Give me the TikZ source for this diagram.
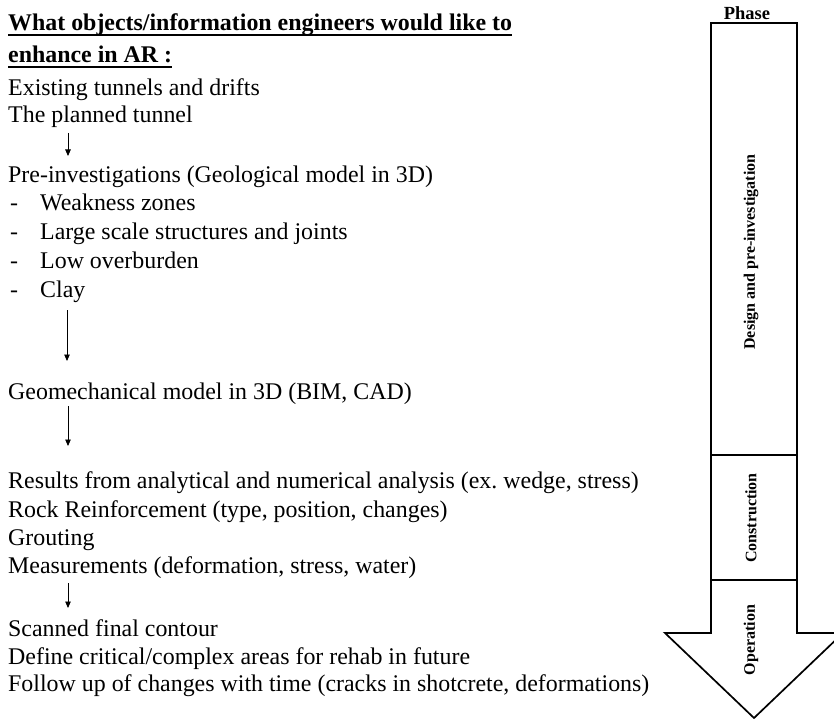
\documentclass[tikz,border=0pt]{standalone}
\usepackage{fontspec}
\setmainfont{Liberation Serif}
\usetikzlibrary{arrows.meta}
\frenchspacing

\tikzset{
  body/.style={font=\fontsize{23.9}{28}\selectfont, inner sep=0pt, anchor=base west},
  head/.style={font=\bfseries\fontsize{23.9}{28}\selectfont, inner sep=0pt, anchor=base west},
  uline/.style={line width=1.3pt},
  flow/.style={-{Triangle[length=6.5pt,width=5.5pt]}, line width=0.9pt},
  phasebox/.style={line width=1.7pt, line join=miter},
  phaselabel/.style={font=\bfseries\fontsize{16}{18}\selectfont, inner sep=0pt, rotate=90},
}

\begin{document}
\begin{tikzpicture}[x=1pt, y=-1pt]
\useasboundingbox (0,0) rectangle (834,719);

% heading
\node[head] (t1) at (8,31) {What objects/information engineers would like to};
\node[head] (t2) at (8,63) {enhance in AR :};
\draw[uline] ([yshift=-4pt]t1.base west) -- ([yshift=-4pt]t1.base east);
\draw[uline] ([yshift=-4pt]t2.base west) -- ([yshift=-4pt]t2.base east);

% list of objects
\node[body] (a1) at (8,96)  {Existing tunnels and drifts};
\node[body] (a2) at (8,123) {The planned tunnel};

\node[body] (b0) at (8,183) {Pre-investigations (Geological model in 3D)};
\node[body] (b1d) at (10,211) {-};
\node[body] (b1) at (40,211) {Weakness zones};
\node[body] (b2d) at (10,240) {-};
\node[body] (b2) at (40,240) {Large scale structures and joints};
\node[body] (b3d) at (10,268) {-};
\node[body] (b3) at (40,268) {Low overburden};
\node[body] (b4d) at (10,297) {-};
\node[body] (b4) at (40,297) {Clay};

\node[body] (c0) at (8,399) {Geomechanical model in 3D (BIM, CAD)};

\node[body] (d1) at (8,488) {Results from analytical and numerical analysis (ex. wedge, stress)};
\node[body] (d2) at (8,517) {Rock Reinforcement (type, position, changes)};
\node[body] (d3) at (8,545) {Grouting};
\node[body] (d4) at (8,573) {Measurements (deformation, stress, water)};

\node[body] (e1) at (8,636) {Scanned final contour};
\node[body] (e2) at (8,664) {Define critical/complex areas for rehab in future};
\node[body] (e3) at (8,691) {Follow up of changes with time (cracks in shotcrete, deformations)};

% flow arrows between the groups
\coordinate (f1s) at (68,133); \coordinate (f1e) at (68,156);
\coordinate (f2s) at (67,310); \coordinate (f2e) at (67,361);
\coordinate (f3s) at (68,406); \coordinate (f3e) at (68,446);
\coordinate (f4s) at (68,583); \coordinate (f4e) at (68,608);
\draw[flow] (f1s) -- (f1e);
\draw[flow] (f2s) -- (f2e);
\draw[flow] (f3s) -- (f3e);
\draw[flow] (f4s) -- (f4e);

% phase arrow
\coordinate (pTL) at (711,23);
\coordinate (pTR) at (797,23);
\coordinate (pSR) at (797,633);
\coordinate (pWR) at (843,633);
\coordinate (pTip) at (754,718);
\coordinate (pWL) at (665,633);
\coordinate (pSL) at (711,633);
\draw[phasebox] (pTL) -- (pTR) -- (pSR) -- (pWR) -- (pTip) -- (pWL) -- (pSL) -- cycle;
\coordinate (s1L) at (711,455); \coordinate (s1R) at (797,455);
\coordinate (s2L) at (711,580); \coordinate (s2R) at (797,580);
\draw[phasebox] (s1L) -- (s1R);
\draw[phasebox] (s2L) -- (s2R);

\node[font=\bfseries\fontsize{18.5}{20}\selectfont, inner sep=0pt, anchor=base] (ph) at (747,20) {Phase};
\node[phaselabel] (p1) at (751,252) {Design and pre-investigation};
\node[phaselabel] (p2) at (751,518) {Construction};
\node[phaselabel] (p3) at (751,640) {Operation};
\end{tikzpicture}
\end{document}
